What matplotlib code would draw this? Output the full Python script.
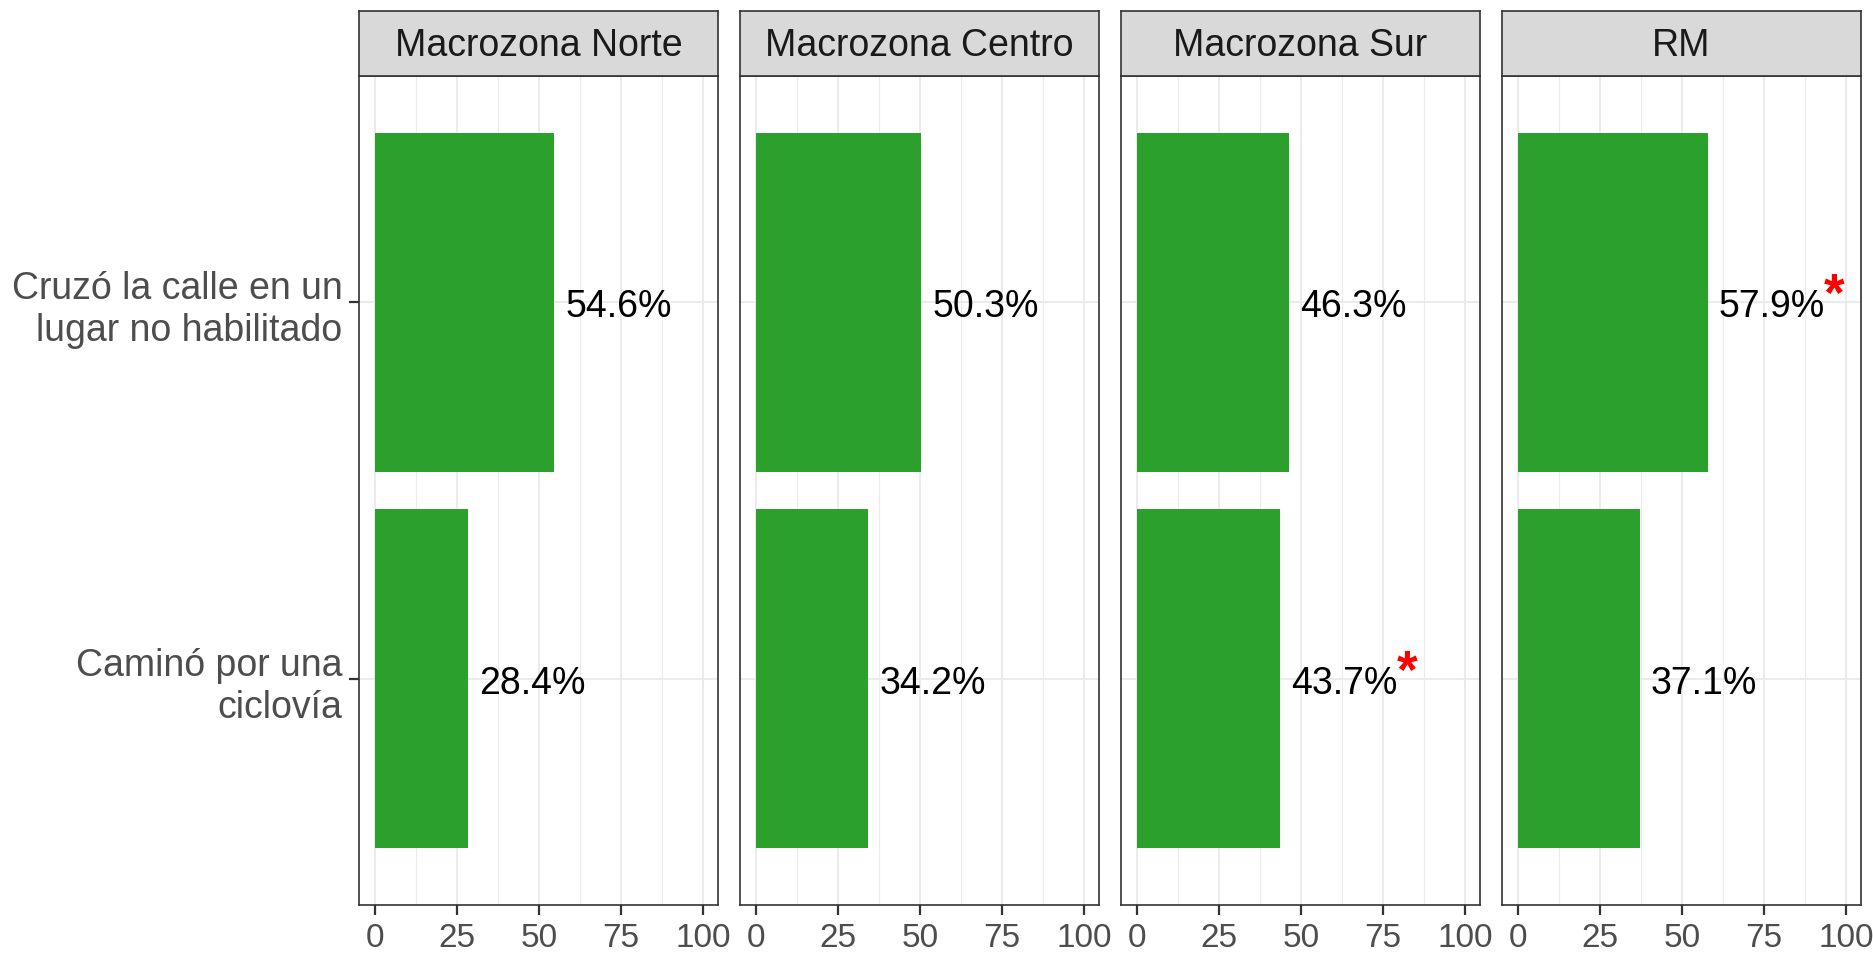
import matplotlib
matplotlib.use("Agg")
import matplotlib.pyplot as plt
import numpy as np

plt.rcParams['font.family'] = ['Liberation Sans', 'DejaVu Sans']

regions = ["Macrozona Norte", "Macrozona Centro", "Macrozona Sur", "RM"]
categories = ["Cruzó la calle en un\nlugar no habilitado", "Caminó por una\nciclovía"]
cruzo = [54.6, 50.3, 46.3, 57.9]
camino = [28.4, 34.2, 43.7, 37.1]
cruzo_sig = [False, False, False, True]
camino_sig = [False, False, True, False]
x_ticks = [0, 25, 50, 75, 100]

W, H = 1873, 954
fig = plt.figure(figsize=(W / 100, H / 100), dpi=100)

green = "#2CA02C"
dark = "#333333"
grid_c = "#EBEBEB"

panel_left = [359, 740, 1121, 1502]
panel_w = 359
panel_top, panel_bot = 77, 906
strip_top = 12

def frac(x0, y0, x1, y1):
    return [x0 / W, 1 - y1 / H, (x1 - x0) / W, (y1 - y0) / H]

for i, reg in enumerate(regions):
    x0 = panel_left[i]
    ax = fig.add_axes(frac(x0, panel_top, x0 + panel_w, panel_bot))
    vals = [cruzo[i], camino[i]]
    sigs = [cruzo_sig[i], camino_sig[i]]
    ypos = np.arange(len(categories))
    ax.set_xlim(-4.9, 104.6)
    ax.set_ylim(1.6, -0.6)
    # grid
    for m in [12.5, 37.5, 62.5, 87.5]:
        ax.axvline(m, color=grid_c, lw=0.8, zorder=0)
    for t in x_ticks:
        ax.axvline(t, color=grid_c, lw=1.5, zorder=0)
    for y in ypos:
        ax.axhline(y, color=grid_c, lw=1.5, zorder=0)
    ax.barh(ypos, vals, height=0.9, color=green, zorder=2)
    for y, v, s in zip(ypos, vals, sigs):
        t = ax.annotate(f"{v:.1f}%", xy=(v + 3.4, y), xytext=(0, -2.6),
                        textcoords="offset points", fontsize=27, color="black",
                        va="center", ha="left", zorder=3)
        if s:
            ax.annotate("*", xy=(0.99, 0.07), xycoords=t, fontsize=38,
                        color="red", ha="left", va="bottom", fontweight="bold")
    ax.set_xticks(x_ticks)
    ax.set_xticklabels([str(t) for t in x_ticks])
    ax.set_yticks(ypos)
    if i == 0:
        ax.set_yticklabels(categories, linespacing=1.2, fontsize=27)
    else:
        ax.set_yticklabels([])
        ax.tick_params(axis="y", length=0)
    ax.tick_params(axis="both", labelcolor="#4D4D4D", color=dark, width=1.6)
    ax.tick_params(axis="x", length=7, pad=5, labelsize=24)
    if i == 0:
        ax.tick_params(axis="y", length=7, pad=5)
    for sp in ax.spines.values():
        sp.set_color(dark)
        sp.set_linewidth(1.2)
    # strip
    sax = fig.add_axes(frac(x0, strip_top, x0 + panel_w, panel_top))
    sax.set_facecolor("#D9D9D9")
    sax.set_xticks([])
    sax.set_yticks([])
    for sp in sax.spines.values():
        sp.set_color(dark)
        sp.set_linewidth(1.2)
    sax.text(0.5, 0.47, reg, transform=sax.transAxes, ha="center", va="center",
             fontsize=27, color="#1A1A1A")

fig.savefig("out.png", dpi=100)
